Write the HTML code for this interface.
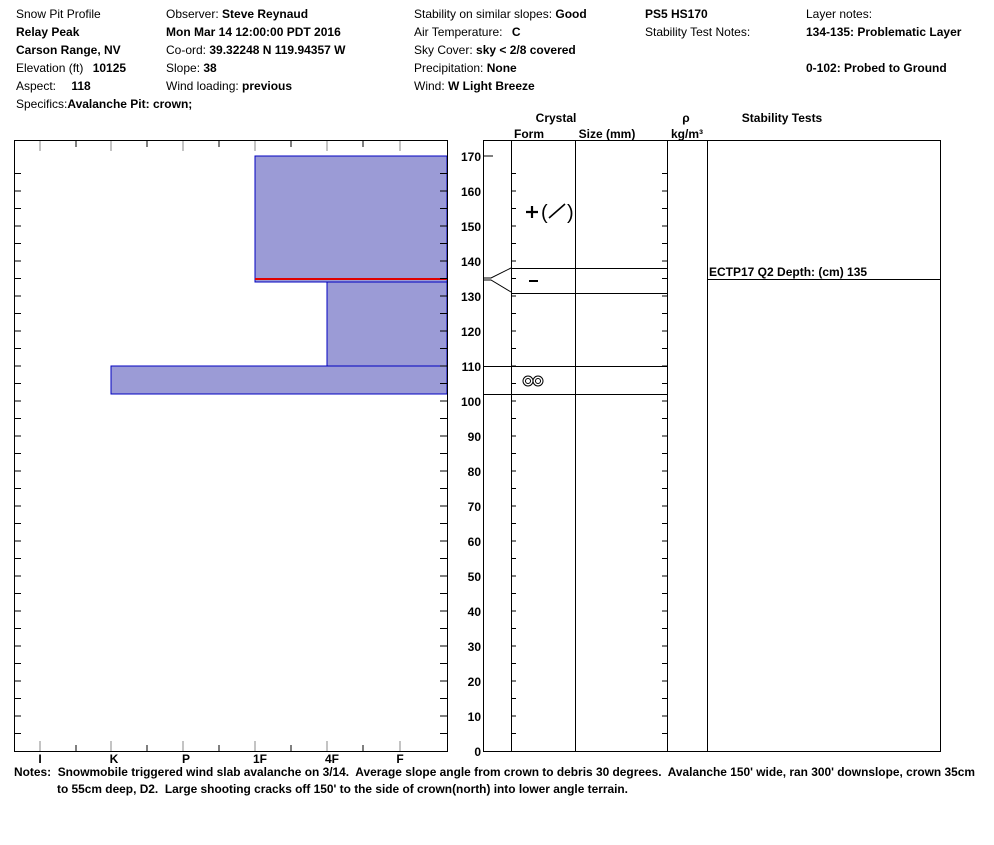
<!DOCTYPE html>
<html><head><meta charset="utf-8"><style>
body{margin:0;background:#fff;}
svg text{font-family:"Liberation Sans",Arial,sans-serif;font-size:12px;fill:#000;}
.b{font-weight:bold;}
</style></head><body>
<svg width="994" height="840" viewBox="0 0 994 840" xmlns="http://www.w3.org/2000/svg">
<text x="16" y="18">Snow Pit Profile</text>
<text x="16" y="36" class="b">Relay Peak</text>
<text x="16" y="54" class="b">Carson Range, NV</text>
<text x="16" y="72">Elevation (ft) <tspan class="b" dx="6">10125</tspan></text>
<text x="16" y="90">Aspect: <tspan class="b" dx="12">118</tspan></text>
<text x="16" y="108">Specifics:<tspan class="b">Avalanche Pit: crown;</tspan></text>
<text x="166" y="18">Observer: <tspan class="b">Steve Reynaud</tspan></text>
<text x="166" y="36" class="b">Mon Mar 14 12:00:00 PDT 2016</text>
<text x="166" y="54">Co-ord: <tspan class="b">39.32248 N 119.94357 W</tspan></text>
<text x="166" y="72">Slope: <tspan class="b">38</tspan></text>
<text x="166" y="90">Wind loading: <tspan class="b">previous</tspan></text>
<text x="414" y="18">Stability on similar slopes: <tspan class="b">Good</tspan></text>
<text x="414" y="36">Air Temperature: <tspan class="b" dx="6">C</tspan></text>
<text x="414" y="54">Sky Cover: <tspan class="b">sky &lt; 2/8 covered</tspan></text>
<text x="414" y="72">Precipitation: <tspan class="b">None</tspan></text>
<text x="414" y="90">Wind: <tspan class="b">W Light Breeze</tspan></text>
<text x="645" y="18" class="b">PS5 HS170</text>
<text x="645" y="36">Stability Test Notes:</text>
<text x="806" y="18">Layer notes:</text>
<text x="806" y="36" class="b">134-135: Problematic Layer</text>
<text x="806" y="72" class="b">0-102: Probed to Ground</text>

<rect x="255" y="156" width="192" height="126" fill="#9b9bd6" stroke="#0000c0" stroke-width="1"/>
<rect x="327" y="282" width="120" height="84" fill="#9b9bd6" stroke="#0000c0" stroke-width="1"/>
<rect x="111" y="366" width="336" height="28" fill="#9b9bd6" stroke="#0000c0" stroke-width="1"/>
<line x1="255" y1="279" x2="447" y2="279" stroke="#e00000" stroke-width="2"/>
<rect x="14.5" y="140.5" width="433" height="611" fill="none" stroke="#000"/>
<path d="M40 141v10M111 141v10M183 141v10M255 141v10M327 141v10M400 141v10M40 751v-10M111 751v-10M183 751v-10M255 751v-10M327 751v-10M400 751v-10" stroke="#888" stroke-width="1"/>
<path d="M76 141v6M147 141v6M219 141v6M291 141v6M363 141v6M76 751v-6M147 751v-6M219 751v-6M291 751v-6M363 751v-6" stroke="#000"/>
<path d="M14 733.5h7m-7-17.5h7m-7-17.5h7m-7-17.5h7m-7-17.5h7m-7-17.5h7m-7-17.5h7m-7-17.5h7m-7-17.5h7m-7-17.5h7m-7-17.5h7m-7-17.5h7m-7-17.5h7m-7-17.5h7m-7-17.5h7m-7-17.5h7m-7-17.5h7m-7-17.5h7m-7-17.5h7m-7-17.5h7m-7-17.5h7m-7-17.5h7m-7-17.5h7m-7-17.5h7m-7-17.5h7m-7-17.5h7m-7-17.5h7m-7-17.5h7m-7-17.5h7m-7-17.5h7m-7-17.5h7m-7-17.5h7m-7-17.5h7" stroke="#000"/>
<path d="M440 733.5h7m-7-17.5h7m-7-17.5h7m-7-17.5h7m-7-17.5h7m-7-17.5h7m-7-17.5h7m-7-17.5h7m-7-17.5h7m-7-17.5h7m-7-17.5h7m-7-17.5h7m-7-17.5h7m-7-17.5h7m-7-17.5h7m-7-17.5h7m-7-17.5h7m-7-17.5h7m-7-17.5h7m-7-17.5h7m-7-17.5h7m-7-17.5h7m-7-17.5h7m-7-17.5h7m-7-17.5h7m-7-17.5h7m-7-17.5h7m-7-17.5h7m-7-17.5h7m-7-17.5h7m-7-17.5h7m-7-17.5h7m-7-17.5h7" stroke="#000"/>
<g text-anchor="middle">
<text x="40" y="763" class="b">I</text><text x="114" y="763" class="b">K</text><text x="186" y="763" class="b">P</text><text x="260" y="763" class="b">1F</text><text x="332" y="763" class="b">4F</text><text x="400" y="763" class="b">F</text>
</g>

<g text-anchor="end">
<text x="481" y="756" class="b">0</text><text x="481" y="721" class="b">10</text><text x="481" y="686" class="b">20</text><text x="481" y="651" class="b">30</text><text x="481" y="616" class="b">40</text><text x="481" y="581" class="b">50</text><text x="481" y="546" class="b">60</text><text x="481" y="511" class="b">70</text><text x="481" y="476" class="b">80</text><text x="481" y="441" class="b">90</text><text x="481" y="406" class="b">100</text><text x="481" y="371" class="b">110</text><text x="481" y="336" class="b">120</text><text x="481" y="301" class="b">130</text><text x="481" y="266" class="b">140</text><text x="481" y="231" class="b">150</text><text x="481" y="196" class="b">160</text><text x="481" y="161" class="b">170</text>
</g>
<rect x="483.5" y="140.5" width="457" height="611" fill="none" stroke="#000"/>
<path d="M511.5 140v611M575.5 140v611M667.5 140v611M707.5 140v611" stroke="#000"/>
<path d="M483 156h10" stroke="#000"/>
<path d="M511 733.5h5m-5-17.5h5m-5-17.5h5m-5-17.5h5m-5-17.5h5m-5-17.5h5m-5-17.5h5m-5-17.5h5m-5-17.5h5m-5-17.5h5m-5-17.5h5m-5-17.5h5m-5-17.5h5m-5-17.5h5m-5-17.5h5m-5-17.5h5m-5-17.5h5m-5-17.5h5m-5-17.5h5m-5-17.5h5m-5-17.5h5m-5-17.5h5m-5-17.5h5m-5-17.5h5m-5-17.5h5m-5-17.5h5m-5-17.5h5m-5-17.5h5m-5-17.5h5m-5-17.5h5m-5-17.5h5m-5-17.5h5m-5-17.5h5" stroke="#000"/>
<path d="M662 733.5h5m-5-17.5h5m-5-17.5h5m-5-17.5h5m-5-17.5h5m-5-17.5h5m-5-17.5h5m-5-17.5h5m-5-17.5h5m-5-17.5h5m-5-17.5h5m-5-17.5h5m-5-17.5h5m-5-17.5h5m-5-17.5h5m-5-17.5h5m-5-17.5h5m-5-17.5h5m-5-17.5h5m-5-17.5h5m-5-17.5h5m-5-17.5h5m-5-17.5h5m-5-17.5h5m-5-17.5h5m-5-17.5h5m-5-17.5h5m-5-17.5h5m-5-17.5h5m-5-17.5h5m-5-17.5h5m-5-17.5h5m-5-17.5h5" stroke="#000"/>
<path d="M511 268.5h156M511 293.5h156M483 366.5h184M483 394.5h184M707 279.5h234" stroke="#000"/>
<path d="M483 278h8l20 -10M483 280h8l20 12" stroke="#000" fill="none"/>
<path d="M526 212h12M532 206v12" stroke="#000" stroke-width="2.2"/>
<text x="541" y="219" style="font-size:20px">(</text>
<path d="M549 218l16-14" stroke="#000" stroke-width="1.6"/>
<text x="567" y="219" style="font-size:20px">)</text>
<path d="M529 281h9" stroke="#000" stroke-width="2"/>
<circle cx="528" cy="381" r="5" fill="none" stroke="#000"/><circle cx="538" cy="381" r="5" fill="none" stroke="#000"/>
<circle cx="528" cy="381" r="2.5" fill="none" stroke="#000"/><circle cx="538" cy="381" r="2.5" fill="none" stroke="#000"/>
<text x="709" y="276" class="b">ECTP17 Q2 Depth: (cm) 135</text>
<text x="556" y="122" class="b" text-anchor="middle">Crystal</text>
<text x="529" y="138" class="b" text-anchor="middle">Form</text>
<text x="607" y="138" class="b" text-anchor="middle">Size (mm)</text>
<text x="686" y="122" class="b" text-anchor="middle">ρ</text>
<text x="687" y="138" class="b" text-anchor="middle">kg/m³</text>
<text x="782" y="122" class="b" text-anchor="middle">Stability Tests</text>

<text x="14" y="776" class="b" textLength="961" lengthAdjust="spacingAndGlyphs">Notes:&#160; Snowmobile triggered wind slab avalanche on 3/14.&#160; Average slope angle from crown to debris 30 degrees.&#160; Avalanche 150' wide, ran 300' downslope, crown 35cm</text>
<text x="57" y="793" class="b" textLength="571" lengthAdjust="spacingAndGlyphs">to 55cm deep, D2.&#160; Large shooting cracks off 150' to the side of crown(north) into lower angle terrain.</text>
</svg>
</body></html>
